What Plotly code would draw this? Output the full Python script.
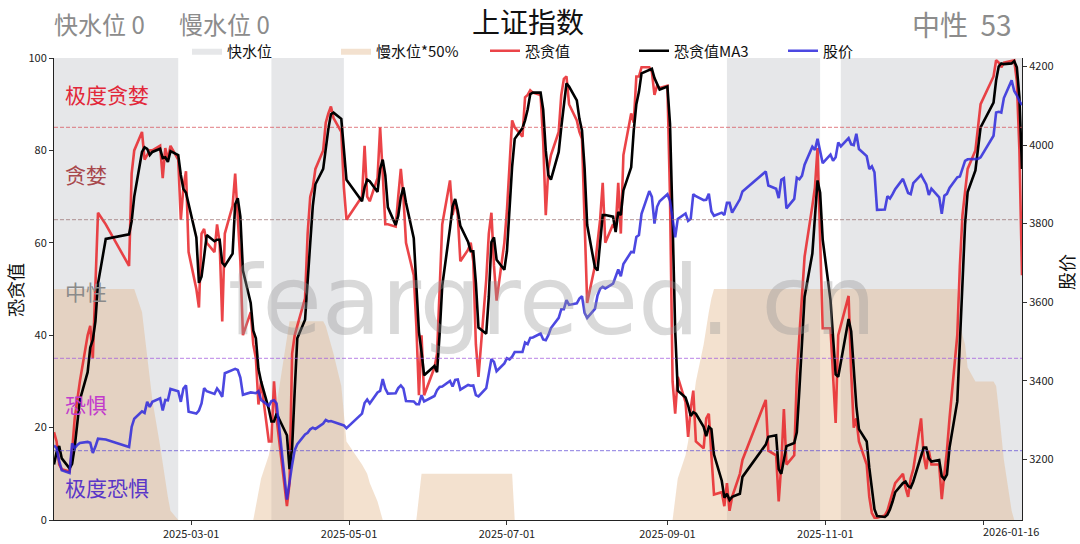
import pandas as pd
import plotly.graph_objects as go

# ---------------- data ----------------
dates = [
    # 2025-01
    "2025-01-07", "2025-01-08", "2025-01-09", "2025-01-10", "2025-01-13", "2025-01-14", "2025-01-15",
    "2025-01-16", "2025-01-17", "2025-01-20", "2025-01-21", "2025-01-22", "2025-01-23", "2025-01-24",
    "2025-01-27",
    # 2025-02
    "2025-02-05", "2025-02-06", "2025-02-07", "2025-02-10", "2025-02-11", "2025-02-12", "2025-02-13",
    "2025-02-14", "2025-02-17", "2025-02-18", "2025-02-19", "2025-02-20", "2025-02-21", "2025-02-24",
    "2025-02-25", "2025-02-26", "2025-02-27", "2025-02-28",
    # 2025-03
    "2025-03-03", "2025-03-04", "2025-03-05", "2025-03-06", "2025-03-07", "2025-03-10", "2025-03-11",
    "2025-03-12", "2025-03-13", "2025-03-14", "2025-03-17", "2025-03-18", "2025-03-19", "2025-03-20",
    "2025-03-21", "2025-03-24", "2025-03-25", "2025-03-26", "2025-03-27", "2025-03-28", "2025-03-31",
    # 2025-04
    "2025-04-01", "2025-04-02", "2025-04-03", "2025-04-07", "2025-04-08", "2025-04-09", "2025-04-10",
    "2025-04-11", "2025-04-14", "2025-04-15", "2025-04-16", "2025-04-17", "2025-04-18", "2025-04-21",
    "2025-04-22", "2025-04-23", "2025-04-24", "2025-04-25", "2025-04-28", "2025-04-29", "2025-04-30",
    # 2025-05
    "2025-05-06", "2025-05-07", "2025-05-08", "2025-05-09", "2025-05-12", "2025-05-13", "2025-05-14",
    "2025-05-15", "2025-05-16", "2025-05-19", "2025-05-20", "2025-05-21", "2025-05-22", "2025-05-23",
    "2025-05-26", "2025-05-27", "2025-05-28", "2025-05-29", "2025-05-30",
    # 2025-06
    "2025-06-03", "2025-06-04", "2025-06-05", "2025-06-06", "2025-06-09", "2025-06-10", "2025-06-11",
    "2025-06-12", "2025-06-13", "2025-06-16", "2025-06-17", "2025-06-18", "2025-06-19", "2025-06-20",
    "2025-06-23", "2025-06-24", "2025-06-25", "2025-06-26", "2025-06-27", "2025-06-30",
    # 2025-07
    "2025-07-01", "2025-07-02", "2025-07-03", "2025-07-04", "2025-07-07", "2025-07-08", "2025-07-09",
    "2025-07-10", "2025-07-11", "2025-07-14", "2025-07-15", "2025-07-16", "2025-07-17", "2025-07-18",
    "2025-07-21", "2025-07-22", "2025-07-23", "2025-07-24", "2025-07-25", "2025-07-28", "2025-07-29",
    "2025-07-30", "2025-07-31",
    # 2025-08
    "2025-08-01", "2025-08-04", "2025-08-05", "2025-08-06", "2025-08-07", "2025-08-08", "2025-08-11",
    "2025-08-12", "2025-08-13", "2025-08-14", "2025-08-15", "2025-08-18", "2025-08-19", "2025-08-20",
    "2025-08-21", "2025-08-22", "2025-08-25", "2025-08-26", "2025-08-27", "2025-08-28", "2025-08-29",
    # 2025-09
    "2025-09-01", "2025-09-02", "2025-09-03", "2025-09-04", "2025-09-05", "2025-09-08", "2025-09-09",
    "2025-09-10", "2025-09-11", "2025-09-12", "2025-09-15", "2025-09-16", "2025-09-17", "2025-09-18",
    "2025-09-19", "2025-09-22", "2025-09-23", "2025-09-24", "2025-09-25", "2025-09-26", "2025-09-29",
    "2025-09-30",
    # 2025-10
    "2025-10-09", "2025-10-10", "2025-10-13", "2025-10-14", "2025-10-15", "2025-10-16", "2025-10-17",
    "2025-10-20", "2025-10-21", "2025-10-22", "2025-10-23", "2025-10-24", "2025-10-27", "2025-10-28",
    "2025-10-29", "2025-10-30", "2025-10-31",
    # 2025-11
    "2025-11-03", "2025-11-04", "2025-11-05", "2025-11-06", "2025-11-07", "2025-11-10", "2025-11-11",
    "2025-11-12", "2025-11-13", "2025-11-14", "2025-11-17", "2025-11-18", "2025-11-19", "2025-11-20",
    "2025-11-21", "2025-11-24", "2025-11-25", "2025-11-26", "2025-11-27", "2025-11-28",
    # 2025-12
    "2025-12-01", "2025-12-02", "2025-12-03", "2025-12-04", "2025-12-05", "2025-12-08", "2025-12-09",
    "2025-12-10", "2025-12-11", "2025-12-12", "2025-12-15", "2025-12-16", "2025-12-17", "2025-12-18",
    "2025-12-19", "2025-12-22", "2025-12-23", "2025-12-24", "2025-12-25", "2025-12-26", "2025-12-29",
    "2025-12-30", "2025-12-31",
    # 2026-01
    "2026-01-05", "2026-01-06", "2026-01-07", "2026-01-08", "2026-01-09", "2026-01-12", "2026-01-13",
    "2026-01-14", "2026-01-15", "2026-01-16",
]

# fear & greed value (red line), one per trading day
fear_greed = [
    19, 17, 12, 11, 10.5, 15, 22, 26, 30, 40, 42, 35, 52, 66.5, 64,
    55, 75, 80, 84, 78, 79, 80, 80, 81, 74, 80.5, 78, 81, 78, 65, 72, 75.5, 58,
    50, 46, 62, 63, 60, 58, 64, 60, 43, 62, 68, 75, 66, 56, 40, 45, 38, 35, 25, 30, 17,
    17, 30, 22, 3, 8, 36, 40, 42, 48, 62, 70, 72, 76, 80, 86, 88, 89.5, 87, 84, 72, 65,
    70, 81, 70, 69, 74, 85, 75, 64, 64, 63.5, 70, 76, 70, 60, 53, 42, 27, 40, 27,
    33, 36, 52, 64, 73.5, 66, 69, 66, 56, 58.5, 60, 56, 38, 31, 52, 62, 66.5, 55, 47.5, 60,
    67, 76, 86.5, 85, 83, 91.5, 92, 93, 92.5, 92, 82, 66, 76, 79, 84, 92, 95.5, 96, 90, 86.5, 84, 82.5, 62,
    47, 55, 60, 65, 73, 60, 64, 63, 73, 62, 79, 88, 86, 96, 96, 98, 98, 97, 92, 94, 93.5,
    94, 70, 30, 23, 31, 25.5, 18, 24, 28, 17, 15.5, 22, 23, 14, 5.5, 6, 3, 8, 2, 5, 10, 13,
    26, 15, 14, 4, 12, 24, 12, 14, 31, 40, 48, 57, 68, 72, 80.5, 60, 41.5,
    41.5, 32, 21, 40, 42, 48.5, 32, 20, 22, 17, 12, 5, 1.5, 0.5, 0.5, 1, 2, 4, 6, 8,
    10, 7, 5, 9, 11, 22, 14, 11, 15, 12, 12, 4.5, 10, 15, 22, 40, 55, 66, 71, 76, 80, 85, 90,
    96, 99.5, 99, 98, 99, 99.5, 99.5, 95, 80, 53,
]
# two trading days before the window (2025-01-03, 2025-01-06), only seed the MA3
fear_greed_seed = [9, 8]

# Shanghai Composite close (blue line, right axis)
index_close = [
    3235, 3228, 3195, 3172, 3165, 3240, 3228, 3236, 3241, 3244, 3242, 3216, 3232, 3252, 3250,
    3231, 3282, 3303, 3322, 3318, 3346, 3333, 3346, 3355, 3324, 3351, 3350, 3379, 3373, 3346, 3380, 3388, 3321,
    3316, 3324, 3342, 3381, 3373, 3366, 3380, 3371, 3359, 3419, 3426, 3430, 3427, 3408, 3364, 3370, 3369, 3368, 3373, 3351, 3336,
    3348, 3350, 3342, 3097, 3145, 3186, 3223, 3238, 3263, 3267, 3276, 3280, 3277, 3291, 3300, 3296, 3297, 3295, 3288, 3286, 3279,
    3316, 3343, 3352, 3342, 3370, 3374, 3404, 3380, 3367, 3368, 3381, 3388, 3380, 3348, 3347, 3340, 3340, 3363, 3347,
    3361, 3376, 3384, 3385, 3399, 3385, 3402, 3403, 3377, 3389, 3387, 3388, 3363, 3360, 3381, 3420, 3455, 3448, 3424, 3444,
    3457, 3454, 3461, 3473, 3473, 3497, 3493, 3509, 3510, 3520, 3505, 3503, 3516, 3534, 3560, 3582, 3582, 3605, 3593, 3597, 3609, 3615, 3573,
    3560, 3583, 3617, 3634, 3639, 3635, 3647, 3665, 3683, 3666, 3697, 3728, 3727, 3766, 3771, 3825, 3883, 3868, 3800, 3843, 3857,
    3875, 3858, 3813, 3765, 3812, 3826, 3807, 3812, 3875, 3870, 3860, 3861, 3876, 3831, 3820, 3828, 3822, 3853, 3853, 3828, 3862, 3882,
    3933, 3897, 3889, 3865, 3912, 3916, 3839, 3863, 3917, 3913, 3922, 3950, 3996, 3988, 4016, 3987, 3954,
    3976, 3960, 3969, 4007, 3997, 4018, 4002, 4000, 4029, 3990, 3972, 3939, 3946, 3931, 3835, 3836, 3870, 3864, 3875, 3888,
    3914, 3898, 3878, 3875, 3903, 3924, 3910, 3900, 3873, 3889, 3867, 3825, 3871, 3876, 3891, 3918, 3920, 3941, 3960, 3964, 3965, 3965, 3969,
    4024, 4083, 4085, 4083, 4120, 4165, 4138, 4127, 4112, 4102,
]

# fast water level (快水位) active periods
fast_starts = ["2025-01-07", "2025-04-01", "2025-09-24", "2025-11-07"]
fast_ends = ["2025-02-24", "2025-04-29", "2025-10-30", "2026-01-16"]
fast_level = 100

# slow water level * 50% (慢水位*50%) outline points
slow_dates = [
    "2025-01-07", "2025-02-07", "2025-02-10", "2025-02-11", "2025-02-12", "2025-02-13", "2025-02-14",
    "2025-02-17", "2025-02-18", "2025-02-19", "2025-02-20", "2025-02-21", "2025-02-24",
    "2025-03-25", "2025-03-26", "2025-03-27", "2025-03-28", "2025-03-31", "2025-04-01", "2025-04-02",
    "2025-04-03", "2025-04-07", "2025-04-08", "2025-04-21", "2025-04-22", "2025-04-23", "2025-04-24",
    "2025-04-25", "2025-04-28", "2025-04-29", "2025-04-30", "2025-05-06", "2025-05-07", "2025-05-08",
    "2025-05-09", "2025-05-12", "2025-05-13", "2025-05-14",
    "2025-05-27", "2025-05-28", "2025-05-29", "2025-07-03", "2025-07-04",
    "2025-09-03", "2025-09-04", "2025-09-05", "2025-09-08", "2025-09-09", "2025-09-10", "2025-09-11",
    "2025-09-12", "2025-09-15", "2025-09-16", "2025-09-17", "2025-09-18", "2025-09-19",
    "2025-12-22", "2025-12-23", "2025-12-24", "2025-12-25", "2025-12-26", "2025-12-29",
    "2026-01-05", "2026-01-06", "2026-01-07", "2026-01-08", "2026-01-09", "2026-01-12", "2026-01-13",
    "2026-01-16",
]
slow_values = [
    50, 50, 45, 40, 35, 30, 26,
    16, 12, 8, 5, 2, 0,
    0, 3, 6, 9, 14, 17, 20,
    25, 40, 43, 43, 42, 40, 38,
    36, 29, 22, 17, 12, 11, 10,
    8, 4, 2, 0,
    0, 5, 10, 10, 0,
    0, 5, 9, 14, 17, 21, 26,
    30, 38, 42, 45, 48, 50,
    50, 43, 40, 38, 33, 30,
    30, 29, 24, 18, 13, 2, 0,
    0,
]

zone_names = ["极度贪婪", "贪婪", "中性", "恐惧", "极度恐惧"]
zone_label_y = [92.2, 74.9, 49.6, 25.1, 7.1]
zone_colors = ["#e2283a", "#a8484c", "#8a8a8a", "#c23ccc", "#5a36c8"]
zone_bounds = [85, 65, 35, 15]
zone_bound_colors = ["rgba(215,80,90,0.75)", "rgba(150,105,105,0.7)",
                     "rgba(160,90,220,0.75)", "rgba(100,80,215,0.75)"]

x_tick_vals = ["2025-03-01", "2025-05-01", "2025-07-01", "2025-09-01", "2025-11-01", "2026-01-01"]
x_tick_text = ["2025-03-01", "2025-05-01", "2025-07-01", "2025-09-01", "2025-11-01", ""]
last_date_label = "2026-01-16"
fg_ticks = [0, 20, 40, 60, 80, 100]
price_ticks = [3200, 3400, 3600, 3800, 4000, 4200]

latest_fg = 53
fast_now, slow_now = 0, 0

# ---------------- derived ----------------
fg_ma3 = pd.Series(fear_greed_seed + fear_greed).rolling(3).mean().tolist()[len(fear_greed_seed):]

fast_x, fast_y = [], []
for s, e in zip(fast_starts, fast_ends):
    fast_x += [s, s, e, e, s, None]
    fast_y += [0, fast_level, fast_level, 0, 0, None]

FONT = "Noto Sans CJK SC"

fig = go.Figure()
fig.add_trace(go.Scatter(x=fast_x, y=fast_y, fill="toself", mode="lines",
                         line=dict(width=0), fillcolor="rgba(200,201,206,0.45)",
                         name="快水位", hoverinfo="skip"))
fig.add_trace(go.Scatter(x=slow_dates, y=slow_values, fill="tozeroy", mode="lines",
                         line=dict(width=0), fillcolor="rgba(225,180,135,0.40)",
                         name="慢水位*50%", hoverinfo="skip"))
fig.add_trace(go.Scatter(x=dates, y=fear_greed, mode="lines",
                         line=dict(color="rgba(232,35,40,0.85)", width=2.6), name="恐贪值"))
fig.add_trace(go.Scatter(x=dates, y=fg_ma3, mode="lines",
                         line=dict(color="black", width=2.6), name="恐贪值MA3"))
fig.add_trace(go.Scatter(x=dates, y=index_close, mode="lines", yaxis="y2",
                         line=dict(color="rgba(45,40,220,0.85)", width=2.6), name="股价"))

W, H = 1080, 544
L, R, T, B = 54, 58, 58, 24
pw, ph = W - L - R, H - T - B


def px(xp):
    return (xp - L) / pw


def py(yp):
    return (H - B - yp) / ph


shapes = []
for v, c in zip(zone_bounds, zone_bound_colors):
    shapes.append(dict(type="line", xref="paper", yref="y", x0=0, x1=1, y0=v, y1=v,
                       line=dict(color=c, width=1, dash="4px,2px"), layer="above"))

annotations = []
for name, yv, c in zip(zone_names, zone_label_y, zone_colors):
    annotations.append(dict(text=name, xref="paper", yref="y", x=px(63), y=yv,
                            xanchor="left", yanchor="middle", showarrow=False,
                            font=dict(family=FONT, size=21, color=c)))

annotations += [
    dict(text="feargreed. cn", xref="paper", yref="paper", x=px(552), y=py(300),
         xanchor="center", yanchor="middle", showarrow=False,
         font=dict(family="DejaVu Sans", size=97, color="rgba(150,150,150,0.36)")),
    dict(text="上证指数", xref="paper", yref="paper", x=px(528), y=py(21),
         xanchor="center", yanchor="middle", showarrow=False,
         font=dict(family=FONT, size=28, color="#111111")),
    dict(text=f"快水位 {fast_now}", xref="paper", yref="paper", x=px(52), y=py(23),
         xanchor="left", yanchor="middle", showarrow=False,
         font=dict(family=FONT, size=24, color="#8c8c8c")),
    dict(text=f"慢水位 {slow_now}", xref="paper", yref="paper", x=px(177), y=py(23),
         xanchor="left", yanchor="middle", showarrow=False,
         font=dict(family=FONT, size=24, color="#8c8c8c")),
    dict(text=f"中性  {latest_fg}", xref="paper", yref="paper", x=px(1014), y=py(24),
         xanchor="right", yanchor="middle", showarrow=False,
         font=dict(family=FONT, size=28, color="#8c8c8c")),
    dict(text="恐贪值", xref="paper", yref="paper", x=px(15), y=py(290), textangle=-90,
         xanchor="center", yanchor="middle", showarrow=False,
         font=dict(family=FONT, size=18, color="#111111")),
    dict(text="股价", xref="paper", yref="paper", x=px(1066), y=py(272), textangle=-90,
         xanchor="center", yanchor="middle", showarrow=False,
         font=dict(family=FONT, size=18, color="#111111")),
    dict(text=last_date_label, xref="paper", yref="paper", x=px(1011), y=py(531),
         xanchor="center", yanchor="middle", showarrow=False,
         font=dict(family=FONT, size=11, color="#222222")),
]

fig.update_layout(
    width=W, height=H,
    margin=dict(l=L, r=R, t=T, b=B, autoexpand=False),
    paper_bgcolor="white", plot_bgcolor="white",
    font=dict(family=FONT, size=11, color="#222222"),
    showlegend=True,
    legend=dict(orientation="h", x=px(187), xanchor="left", y=py(51), yanchor="middle",
                bgcolor="rgba(0,0,0,0)", font=dict(family=FONT, size=15, color="#111111"),
                entrywidthmode="pixels", entrywidth=104, itemwidth=30, tracegroupgap=0),
    xaxis=dict(type="date", range=["2025-01-07", "2026-01-16"], tickvals=x_tick_vals,
               ticktext=x_tick_text, ticks="outside", ticklen=4, tickcolor="#333",
               showline=True, linecolor="#222", linewidth=1, showgrid=False, zeroline=False,
               tickfont=dict(family=FONT, size=11, color="#222")),
    yaxis=dict(range=[0, 100], tickvals=fg_ticks, ticks="outside", ticklen=4, tickcolor="#333",
               showline=True, linecolor="#222", linewidth=1, showgrid=False, zeroline=False,
               tickfont=dict(family=FONT, size=11, color="#222")),
    yaxis2=dict(overlaying="y", side="right", range=[3045, 4222], tickvals=price_ticks,
                ticks="outside", ticklen=4, tickcolor="#333", showline=True, linecolor="#222",
                linewidth=1, showgrid=False, zeroline=False,
                tickfont=dict(family=FONT, size=11, color="#222")),
    shapes=shapes,
    annotations=annotations,
)

fig.write_html("out.html",
               config={"displayModeBar": False},
               post_script="document.body.style.margin='0px';document.body.style.padding='0px';")
